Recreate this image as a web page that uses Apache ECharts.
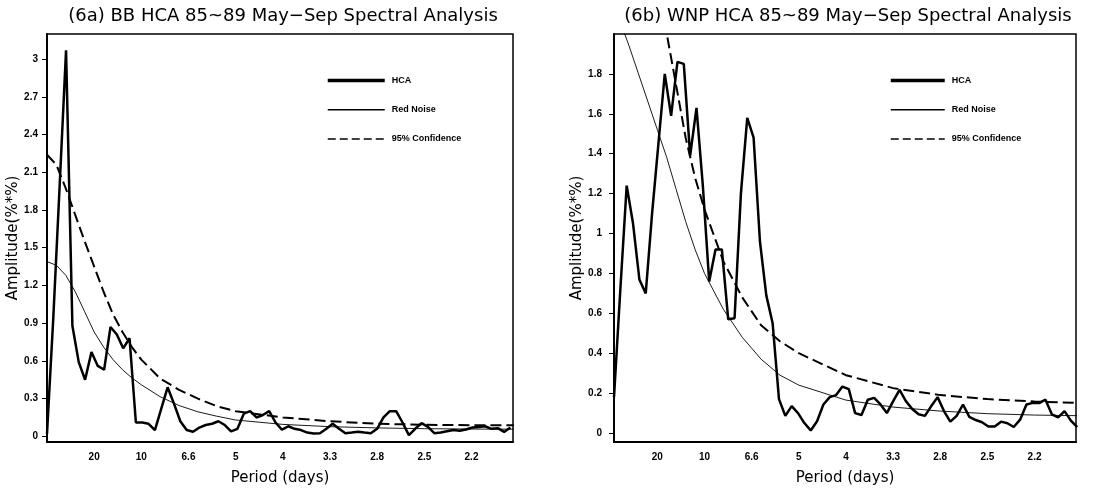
<!DOCTYPE html>
<html>
<head>
<meta charset="utf-8">
<script src="https://cdn.jsdelivr.net/npm/echarts@6/dist/echarts.min.js"></script>
<style>
  html, body { margin: 0; padding: 0; background: #fff; }
  #chart { width: 1114px; height: 491px; }
</style>
</head>
<body>
<div id="chart"></div>
<script>
// 频率网格（cycles/day）
const F0_6A = 0
const F0_6B = 0.004
const DF = 0.00673

// x 轴刻度：频率 -> 周期标签
const TICK_FREQ = [0.05, 0.1, 0.15, 0.2, 0.25, 0.3, 0.35, 0.4, 0.45]
const PERIOD_LABELS = ['20', '10', '6.6', '5', '4', '3.3', '2.8', '2.5', '2.2']

// y 轴刻度
const Y_TICKS_6A = [0, 0.3, 0.6, 0.9, 1.2, 1.5, 1.8, 2.1, 2.4, 2.7, 3]
const Y_TICKS_6B = [0, 0.2, 0.4, 0.6, 0.8, 1, 1.2, 1.4, 1.6, 1.8]

// (6a) BB HCA 振幅谱
const HCA_6A = [
  0.02, 0.95, 2.0, 3.07, 0.88, 0.59, 0.45, 0.67, 0.56, 0.53,
  0.87, 0.81, 0.70, 0.78, 0.11, 0.11, 0.10, 0.05, 0.22, 0.39,
  0.26, 0.12, 0.05, 0.036, 0.07, 0.09, 0.10, 0.12, 0.09, 0.04,
  0.06, 0.18, 0.20, 0.15, 0.17, 0.20, 0.11, 0.054, 0.08, 0.06,
  0.05, 0.03, 0.023, 0.025, 0.06, 0.10, 0.06, 0.025, 0.03, 0.036,
  0.03, 0.025, 0.06, 0.15, 0.20, 0.20, 0.11, 0.01, 0.06, 0.105,
  0.075, 0.025, 0.03, 0.04, 0.05, 0.045, 0.055, 0.07, 0.075, 0.08,
  0.06, 0.065, 0.035, 0.07
]

// (6b) WNP HCA 振幅谱
const HCA_6B = [
  0.18, 0.72, 1.24, 1.05, 0.77, 0.70, 1.1, 1.45, 1.80, 1.59,
  1.86, 1.85, 1.39, 1.63, 1.24, 0.76, 0.92, 0.92, 0.57, 0.575,
  1.2, 1.58, 1.48, 0.96, 0.69, 0.55, 0.17, 0.086, 0.135, 0.10,
  0.05, 0.013, 0.059, 0.143, 0.18, 0.19, 0.233, 0.22, 0.10, 0.09,
  0.167, 0.176, 0.143, 0.10, 0.16, 0.216, 0.16, 0.12, 0.094, 0.086,
  0.135, 0.18, 0.11, 0.057, 0.086, 0.143, 0.081, 0.065, 0.054, 0.033,
  0.033, 0.057, 0.049, 0.03, 0.067, 0.143, 0.151, 0.15, 0.167, 0.094,
  0.078, 0.11, 0.062, 0.03
]

// 红噪声与 95% 置信曲线（按频率取值）
const CURVE_FREQ = [0, 0.01, 0.02, 0.03, 0.04, 0.05, 0.06, 0.07, 0.08, 0.09, 0.10, 0.12,
  0.14, 0.16, 0.18, 0.20, 0.25, 0.30, 0.35, 0.40, 0.45, 0.495]
const RED_6A = [1.39, 1.36, 1.28, 1.15, 0.99, 0.83, 0.71, 0.61, 0.53, 0.465, 0.41, 0.315,
  0.245, 0.195, 0.16, 0.13, 0.095, 0.077, 0.067, 0.061, 0.058, 0.057]
const CONF_6A = [2.24, 2.16, 1.97, 1.76, 1.55, 1.35, 1.15, 0.97, 0.83, 0.71, 0.61, 0.46,
  0.37, 0.30, 0.24, 0.20, 0.15, 0.12, 0.10, 0.092, 0.089, 0.088]
const RED_6B = [2.15, 2.07, 1.94, 1.80, 1.66, 1.52, 1.38, 1.22, 1.06, 0.92, 0.80, 0.62,
  0.48, 0.37, 0.29, 0.24, 0.165, 0.13, 0.11, 0.097, 0.09, 0.087]
const CONF_6B = [3.15, 3.0, 2.85, 2.65, 2.45, 2.22, 2.0, 1.74, 1.48, 1.28, 1.12, 0.86,
  0.68, 0.54, 0.46, 0.40, 0.29, 0.225, 0.19, 0.17, 0.158, 0.151]

const FONT = 'DejaVu Sans'
const pairs = (xs, ys) => ys.map((v, i) => [xs[i], v])
const gridPairs = (f0, ys) => ys.map((v, i) => [f0 + i * DF, v])

const chart = echarts.init(document.getElementById('chart'))

const xAxisOf = (gridIndex, min) => ({
  type: 'value',
  gridIndex,
  min,
  max: 0.494,
  name: 'Period (days)',
  nameLocation: 'middle',
  nameGap: 29,
  nameTextStyle: { fontFamily: FONT, fontSize: 15, color: '#000' },
  axisLine: { onZero: false, lineStyle: { color: '#000', width: 2 } },
  axisTick: { show: false },
  splitLine: { show: false },
  axisLabel: {
    customValues: TICK_FREQ,
    formatter: (v) => PERIOD_LABELS[Math.round(v / 0.05) - 1],
    fontFamily: 'Liberation Sans',
    fontWeight: 'bold',
    fontSize: 10,
    color: '#000',
    margin: 10
  }
})

const yAxisOf = (gridIndex, max, ticks, margin) => ({
  type: 'value',
  gridIndex,
  min: -0.045,
  max,
  name: 'Amplitude(%*%)',
  nameLocation: 'middle',
  nameGap: 22,
  nameTextStyle: { fontFamily: FONT, fontSize: 15, color: '#000' },
  axisLine: { onZero: false, lineStyle: { color: '#000', width: 2 } },
  axisTick: { show: true, customValues: ticks, length: 5, lineStyle: { color: '#000' } },
  splitLine: { show: false },
  axisLabel: {
    customValues: ticks,
    fontFamily: 'Liberation Sans',
    fontWeight: 'bold',
    fontSize: 10,
    color: '#000',
    margin
  }
})

const hcaStyle = { color: '#000', width: 2.5 }
const redStyle = { color: '#000', width: 0.9 }
const confStyle = { color: '#000', width: 2, type: [11, 5] }

const seriesOf = (idx, f0, hca, red, conf) => [
  {
    name: 'HCA', type: 'line', xAxisIndex: idx, yAxisIndex: idx,
    data: gridPairs(f0, hca), symbol: 'none', lineStyle: hcaStyle, itemStyle: { color: '#000' }
  },
  {
    name: 'Red Noise', type: 'line', xAxisIndex: idx, yAxisIndex: idx,
    data: pairs(CURVE_FREQ, red), symbol: 'none', lineStyle: redStyle, itemStyle: { color: '#000' }
  },
  {
    name: '95% Confidence', type: 'line', xAxisIndex: idx, yAxisIndex: idx,
    data: pairs(CURVE_FREQ, conf), symbol: 'none', lineStyle: confStyle, itemStyle: { color: '#000' }
  }
]

// 图例：只画线，不画圆点
const legendOf = (left, width) => ({
  orient: 'vertical',
  left,
  top: 70,
  itemWidth: width,
  itemHeight: 14,
  itemGap: 18,
  itemStyle: { opacity: 0 },
  data: [
    { name: 'HCA', lineStyle: { width: 3.5 } },
    { name: 'Red Noise', lineStyle: { width: 1.5 } },
    { name: '95% Confidence', lineStyle: { width: 1.5, type: [8, 4] } }
  ],
  textStyle: { fontFamily: 'Liberation Sans', fontWeight: 'bold', fontSize: 9, color: '#000', padding: [0, 0, 0, 2] },
  selectedMode: false
})

const titleOf = (text, x) => ({
  text, left: x, top: 2, textAlign: 'center',
  textStyle: { fontFamily: FONT, fontSize: 18, fontWeight: 'normal', color: '#000' }
})

const option = {
  backgroundColor: '#fff',
  animation: false,
  title: [
    titleOf('(6a) BB HCA 85~89 May\u2212Sep Spectral Analysis', 278),
    titleOf('(6b) WNP HCA 85~89 May\u2212Sep Spectral Analysis', 843)
  ],
  legend: [legendOf(321, 57), legendOf(884, 54)],
  grid: [
    { left: 47, top: 34, width: 466, height: 416, show: true, borderColor: '#000', borderWidth: 1.5 },
    { left: 614, top: 34, width: 462, height: 414, show: true, borderColor: '#000', borderWidth: 1.5 }
  ],
  xAxis: [xAxisOf(0, 0), xAxisOf(1, 0.004)],
  yAxis: [yAxisOf(0, 3.2, Y_TICKS_6A, 9), yAxisOf(1, 2.0, Y_TICKS_6B, 12)],
  series: [
    ...seriesOf(0, F0_6A, HCA_6A, RED_6A, CONF_6A),
    ...seriesOf(1, F0_6B, HCA_6B, RED_6B, CONF_6B)
  ]
}

chart.setOption(option)
</script>
</body>
</html>
